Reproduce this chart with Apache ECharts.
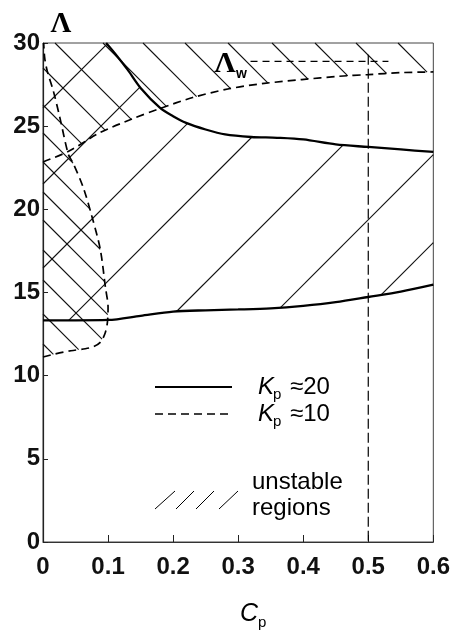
<!DOCTYPE html>
<html>
<head>
<meta charset="utf-8">
<script src="https://cdn.jsdelivr.net/npm/echarts@6/dist/echarts.min.js"></script>
<style>
  html, body { margin: 0; padding: 0; background: #fff; }
  #chart { width: 453px; height: 631px; }
</style>
</head>
<body>
<div id="chart"></div>
<script>
// ---- stability boundaries, K_p = 20 (solid) ----
const cp20Lower = [0, 0.05, 0.1, 0.15, 0.2, 0.25, 0.3, 0.35, 0.4, 0.45, 0.5, 0.55, 0.6];
const lambda20Lower = [13.33, 13.33, 13.35, 13.6, 13.85, 13.93, 13.98, 14.05, 14.2, 14.42, 14.73, 15.05, 15.47];
const cp20Upper = [0.097, 0.11, 0.13, 0.15, 0.18, 0.2, 0.22, 0.25, 0.28, 0.32, 0.36, 0.4, 0.45, 0.5, 0.55, 0.6];
const lambda20Upper = [30, 29.4, 28.4, 27.3, 26.1, 25.6, 25.2, 24.8, 24.5, 24.35, 24.3, 24.2, 23.9, 23.75, 23.6, 23.45];

// ---- stability boundaries, K_p = 10 (dashed) ----
const cp10Upper = [0, 0.04, 0.087, 0.138, 0.179, 0.23, 0.286, 0.34, 0.398, 0.455, 0.5, 0.55, 0.6];
const lambda10Upper = [22.85, 23.5, 24.6, 25.45, 26.05, 26.72, 27.25, 27.57, 27.8, 28.0, 28.1, 28.22, 28.26];
const cp10Left = [0, 0.018, 0.043, 0.065, 0.078, 0.088, 0.095, 0.099, 0.1, 0.096, 0.088, 0.075, 0.062, 0.046, 0.039, 0.026, 0.016, 0.0066, 0.0026, 0.001];
const lambda10Left = [11.12, 11.3, 11.5, 11.62, 11.75, 12.0, 12.5, 13.2, 14.13, 15.3, 17.6, 19.6, 21.3, 22.8, 23.3, 25.5, 27.1, 28.3, 29.1, 30];
const leftLobeTop = 14;   // index in cp10Left where the left branch meets the upper branch

// ---- Λ_w construction lines ----
const wHorizCp = [0.319, 0.531];
const wHorizLambda = [28.9, 28.9];
const wVertCp = [0.5, 0.5];
const wVertLambda = [29.3, 0];

// hatch line offsets (pixels from the grid's top-left corner, measured across the stroke direction)
const fwdHatchOffsets = [65, 141, 225, 303, 402, 502, 590];
const backHatchOffsets = [-355, -313, -272, -229, -185, -142, -100, -60, -12, 25, 62, 90, 119, 149, 177, 207, 237, 271, 301];

const zip = (xs, ys) => xs.map((x, i) => [x, ys[i]]);

// unstable region for K_p = 20: between the two solid curves (and up to the frame top on the left)
const region20 = [
  ...zip(cp20Lower, lambda20Lower),
  ...zip(cp20Upper, lambda20Upper).reverse(),
  [0, 30]
];
// unstable region for K_p = 10: inside the left lobe and above the upper dashed branch
const region10 = [
  ...zip(cp10Left, lambda10Left).slice(0, leftLobeTop + 1),
  ...zip(cp10Upper, lambda10Upper).filter(p => p[0] > cp10Left[leftLobeTop]),
  [0.6, 30],
  [0, 30]
];

function hatch(poly, offsets, dir, origin) {
  const val = p => dir > 0
    ? (p[0] - origin[0]) + (p[1] - origin[1])
    : (p[1] - origin[1]) - (p[0] - origin[0]);
  const segs = [];
  offsets.forEach(k => {
    const hits = [];
    for (let i = 0; i < poly.length; i++) {
      const a = poly[i], b = poly[(i + 1) % poly.length];
      const fa = val(a) - k, fb = val(b) - k;
      if ((fa < 0) !== (fb < 0)) {
        const t = fa / (fa - fb);
        hits.push([a[0] + t * (b[0] - a[0]), a[1] + t * (b[1] - a[1])]);
      }
    }
    hits.sort((p, q) => p[0] - q[0]);
    for (let j = 0; j + 1 < hits.length; j += 2) segs.push([hits[j], hits[j + 1]]);
  });
  return segs;
}

function hatchSeries(region, offsets, dir) {
  return {
    type: 'custom',
    coordinateSystem: 'cartesian2d',
    silent: true,
    z: 1,
    data: [[0, 0]],
    renderItem: function (params, api) {
      const poly = region.map(p => api.coord(p));
      const origin = api.coord([0, 30]);
      const segs = hatch(poly, offsets, dir, origin);
      return {
        type: 'group',
        children: segs.map(s => ({
          type: 'line',
          shape: { x1: s[0][0], y1: s[0][1], x2: s[1][0], y2: s[1][1] },
          style: { stroke: '#111', lineWidth: 1.1 }
        }))
      };
    }
  };
}

const solid = { color: '#000', width: 2.3, type: 'solid' };
const dashed = { color: '#000', width: 1.7, type: [8, 5] };

const labelFont = { fontFamily: 'Liberation Sans', fontSize: 24, fontWeight: 'bold', color: '#111' };

const chart = echarts.init(document.getElementById('chart'), null, { renderer: 'canvas' });

const txt = (text, x, y, font, align) => ({
  type: 'text', x: x, y: y, silent: true,
  style: { text: text, font: font, fill: '#000', align: align || 'left', verticalAlign: 'middle' }
});

chart.setOption({
  animation: false,
  backgroundColor: '#fff',
  grid: { left: 43, top: 43, right: 18, bottom: 89, show: true, borderColor: '#444', borderWidth: 1 },
  xAxis: {
    type: 'value', min: 0, max: 0.6, interval: 0.1,
    axisLine: { show: true, lineStyle: { color: '#333', width: 1 } },
    axisTick: { show: true, inside: true, length: 7, lineStyle: { color: '#222' } },
    splitLine: { show: false },
    axisLabel: Object.assign({ margin: 13, formatter: v => (v === 0 ? '0' : v.toFixed(1)) }, labelFont)
  },
  yAxis: {
    type: 'value', min: 0, max: 30, interval: 5,
    axisLine: { show: true, lineStyle: { color: '#222', width: 1.2 } },
    axisTick: { show: true, inside: true, length: 5, lineStyle: { color: '#222' } },
    splitLine: { show: false },
    axisLabel: Object.assign({ margin: 3, formatter: v => String(v) }, labelFont)
  },
  series: [
    hatchSeries(region20, fwdHatchOffsets, 1),
    hatchSeries(region10, backHatchOffsets, -1),
    { type: 'line', data: zip(cp20Lower, lambda20Lower), symbol: 'none', smooth: 0.3, lineStyle: solid, z: 3 },
    { type: 'line', data: zip(cp20Upper, lambda20Upper), symbol: 'none', smooth: 0.3, lineStyle: solid, z: 3 },
    { type: 'line', data: zip(cp10Upper, lambda10Upper), symbol: 'none', smooth: 0.3, lineStyle: dashed, z: 3 },
    { type: 'line', data: zip(cp10Left, lambda10Left), symbol: 'none', smooth: 0.3, lineStyle: dashed, z: 3 },
    { type: 'line', data: zip(wHorizCp, wHorizLambda), symbol: 'none', lineStyle: { color: '#000', width: 1.2, type: [7, 5] }, z: 3 },
    { type: 'line', data: zip(wVertCp, wVertLambda), symbol: 'none', lineStyle: { color: '#000', width: 1.2, type: [10, 4] }, z: 3 }
  ],
  graphic: [
    // axis titles
    txt('\u039B', 61, 25, 'bold 29px "Liberation Serif"', 'center'),
    txt('C', 249, 614, 'italic 25px "Liberation Sans"', 'center'),
    txt('p', 258, 623, '15px "Liberation Sans"', 'left'),
    // Λ_w label
    txt('\u039B', 225, 64, 'bold 30px "Liberation Serif"', 'center'),
    txt('w', 236, 74, 'bold 14px "Liberation Sans"', 'left'),
    // line legend
    { type: 'line', silent: true, shape: { x1: 155, y1: 387, x2: 232, y2: 387 }, style: { stroke: '#000', lineWidth: 2 } },
    { type: 'line', silent: true, shape: { x1: 155, y1: 414, x2: 232, y2: 414 }, style: { stroke: '#000', lineWidth: 1.5, lineDash: [8, 5] } },
    txt('K', 258, 387, 'italic 24px "Liberation Sans"', 'left'),
    txt('p', 273, 395, '15px "Liberation Sans"', 'left'),
    txt('\u224820', 290, 387, '24px "Liberation Sans"', 'left'),
    txt('K', 258, 414, 'italic 24px "Liberation Sans"', 'left'),
    txt('p', 273, 422, '15px "Liberation Sans"', 'left'),
    txt('\u224810', 290, 414, '24px "Liberation Sans"', 'left'),
    // hatch legend
    { type: 'line', silent: true, shape: { x1: 155, y1: 509, x2: 175, y2: 491 }, style: { stroke: '#000', lineWidth: 1 } },
    { type: 'line', silent: true, shape: { x1: 176, y1: 509, x2: 194, y2: 491 }, style: { stroke: '#000', lineWidth: 1 } },
    { type: 'line', silent: true, shape: { x1: 196, y1: 509, x2: 214, y2: 491 }, style: { stroke: '#000', lineWidth: 1 } },
    { type: 'line', silent: true, shape: { x1: 219, y1: 509, x2: 238, y2: 491 }, style: { stroke: '#000', lineWidth: 1 } },
    txt('unstable', 252, 482, '24px "Liberation Sans"', 'left'),
    txt('regions', 252, 508, '24px "Liberation Sans"', 'left')
  ]
});
</script>
</body>
</html>
